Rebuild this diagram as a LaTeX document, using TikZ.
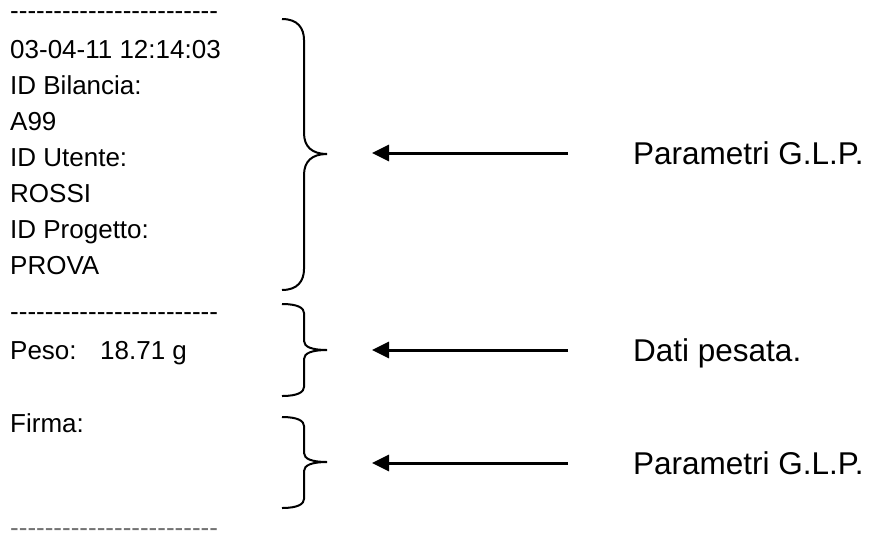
\documentclass[tikz,border=0pt]{standalone}
\usepackage{fontspec}
\setmainfont{Liberation Sans}
\usetikzlibrary{arrows.meta}

\begin{document}
\begin{tikzpicture}[x=1pt,y=-1pt,
    slip/.style={anchor=base west, inner sep=0pt, font=\fontsize{26}{36}\selectfont},
    glp/.style={anchor=base west, inner sep=0pt, font=\fontsize{31.5}{37}\selectfont},
    curly/.style={line width=2pt, line join=miter},
    glparrow/.style={line width=3pt, -{Triangle[length=17pt,width=16pt]}, shorten <=65pt}]
    \useasboundingbox (0,0) rectangle (870,539);

    % printed ticket
    \node[slip] (cut1) at (10,19.7) {\foreach \k in {1,...,24}{-}};
    \foreach \t [count=\i] in {03-04-11 12:14:03, ID Bilancia:, A99, ID Utente:, ROSSI, ID Progetto:, PROVA}
        \node[slip] (row\i) at (10,{22.3+36*\i}) {\t};
    \node[slip] (cut2) at (10,320) {\foreach \k in {1,...,24}{-}};
    \node[slip] (peso) at (10,359.3) {Peso:};
    \node[slip] (val) at (100,359.3) {18.71 g};
    \node[slip] (firma) at (10,432.3) {Firma:};
    \node[slip, black!55] (cut3) at (10,536.5) {\foreach \k in {1,...,24}{-}};

    % braces
    \foreach \ya/\ym/\yb/\r in {19/154/290/21, 304/350/396/9, 417/462/508/9}
        \draw[curly] (282,\ya) .. controls (298,\ya) and (304,{\ya+0.45*\r}) .. (304,{\ya+\r})
            -- (304,{\ym-\r}) .. controls (304,{\ym-0.35*\r}) and (312,\ym) .. (327,\ym)
            .. controls (312,\ym) and (304,{\ym+0.35*\r}) .. (304,{\ym+\r})
            -- (304,{\yb-\r}) .. controls (304,{\yb-0.45*\r}) and (298,\yb) .. (282,\yb);

    % labels and arrows
    \coordinate (tip1) at (372,153);
    \coordinate (tip2) at (372,350);
    \coordinate (tip3) at (372,463);
    \node[glp] (glp1) at (633,164.3) {Parametri G.L.P.};
    \node[glp] (dati) at (633,361.3) {Dati pesata.};
    \node[glp] (glp2) at (633,474.3) {Parametri G.L.P.};
    \draw[glparrow] (glp1.west |- tip1) -- (tip1);
    \draw[glparrow] (dati.west |- tip2) -- (tip2);
    \draw[glparrow] (glp2.west |- tip3) -- (tip3);
\end{tikzpicture}
\end{document}
